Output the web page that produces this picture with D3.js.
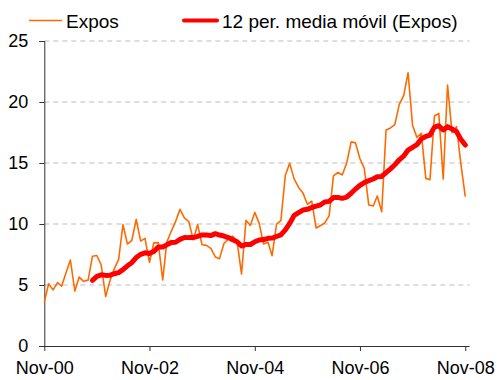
<!DOCTYPE html>
<html>
<head>
<meta charset="utf-8">
<script src="https://cdn.jsdelivr.net/npm/d3@7"></script>
<style>
  html, body { margin: 0; padding: 0; background: #fff; }
  svg { display: block; font-family: "Liberation Sans", Arial, sans-serif; }
</style>
</head>
<body>
<svg id="chart" width="497" height="380"></svg>
<script>
// Monthly series, Nov-2000 .. Nov-2008
const startMonth = new Date(2000, 10, 1);
const expos = [
  3.6, 5.1, 4.6, 5.2, 4.9, 6.0, 7.05, 4.5, 5.65, 5.3, 5.4, 7.35,
  7.42, 6.64, 4.05, 5.4, 6.3, 7.1, 9.95, 8.36, 8.63, 10.38, 8.6, 8.82,
  6.85, 8.45, 8.47, 5.41, 8.5, 9.4, 10.2, 11.2, 10.5, 10.2, 8.7, 9.95,
  8.3, 8.25, 8.0, 7.3, 7.16, 8.4, 8.75, 9.0, 8.6, 5.9, 10.3, 9.88,
  10.95, 10.07, 8.36, 8.5, 7.4, 9.98, 10.27, 14.0, 14.97, 13.7, 13.0, 12.55,
  11.62, 11.88, 9.67, 9.88, 10.08, 10.66, 13.95, 14.22, 14.02, 15.0, 16.73, 16.65,
  15.35, 14.56, 11.56, 11.48, 12.3, 11.0, 17.7, 17.87, 18.14, 19.8, 20.55, 22.4,
  18.1, 17.1, 17.43, 13.74, 13.63, 18.85, 19.07, 13.7, 21.39, 17.49, 17.98, 14.97,
  12.24
];
const maPeriod = 12;
const yTicks = [0, 5, 10, 15, 20, 25];
const xTickLabels = ["Nov-00", "Nov-02", "Nov-04", "Nov-06", "Nov-08"];
const seriesNames = ["Expos", "12 per. media móvil (Expos)"];

const months = expos.map((_, i) => d3.timeMonth.offset(startMonth, i));
const exposPts = expos.map((v, i) => ({ date: months[i], value: v }));
// Trailing 12-period moving average trendline of Expos
const maPts = exposPts.slice(maPeriod - 1).map((p, k) => ({
  date: p.date,
  value: d3.mean(expos.slice(k, k + maPeriod))
}));
const xTickDates = xTickLabels.map((_, i) => d3.timeMonth.offset(startMonth, i * 24));

const svg = d3.select("#chart");
const plot = { left: 44.3, right: 469.6, top: 41, bottom: 346 };

const x = d3.scaleTime()
  .domain([startMonth, d3.timeMonth.offset(startMonth, expos.length)])
  .range([plot.left, plot.right]);
const y = d3.scaleLinear().domain([0, 25]).range([plot.bottom, plot.top]);

// dashed gridlines
svg.append("g")
  .selectAll("line")
  .data(yTicks.filter(t => t > 0))
  .join("line")
  .attr("x1", plot.left).attr("x2", plot.right)
  .attr("y1", d => y(d)).attr("y2", d => y(d))
  .attr("stroke", "#bdbdbd")
  .attr("stroke-width", 1)
  .attr("stroke-dasharray", "5,4");

// y axis
const yAxis = svg.append("g")
  .attr("transform", `translate(${plot.left},0)`)
  .call(d3.axisLeft(y).tickValues(yTicks).tickSize(5).tickPadding(11).tickFormat(d3.format("d")));
yAxis.select(".domain").attr("stroke", "#333");
yAxis.selectAll(".tick line").attr("stroke", "#333");
yAxis.selectAll("text").attr("font-size", 18).attr("fill", "#000")
  .attr("font-family", "Liberation Sans, Arial, sans-serif");

// x axis
const xAxis = svg.append("g")
  .attr("transform", `translate(0,${plot.bottom})`)
  .call(d3.axisBottom(x).tickValues(xTickDates).tickSize(5).tickPadding(10)
    .tickSizeOuter(0)
    .tickFormat((d, i) => xTickLabels[i]));
xAxis.select(".domain").attr("stroke", "#333").attr("d", `M${plot.left - 5},0.5H${plot.right}`);
xAxis.selectAll(".tick line").attr("stroke", "#333");
xAxis.selectAll("text").attr("font-size", 18).attr("fill", "#000")
  .attr("font-family", "Liberation Sans, Arial, sans-serif");

const line = d3.line().x(d => x(d.date)).y(d => y(d.value));

svg.append("path")
  .datum(exposPts)
  .attr("fill", "none")
  .attr("stroke", "#ff6a00")
  .attr("stroke-width", 1.6)
  .attr("stroke-linejoin", "round")
  .attr("d", line);

svg.append("path")
  .datum(maPts)
  .attr("fill", "none")
  .attr("stroke", "#ff0000")
  .attr("stroke-width", 5)
  .attr("stroke-linejoin", "round")
  .attr("stroke-linecap", "round")
  .attr("d", line);

// legend
const legend = svg.append("g").attr("font-size", 19).attr("fill", "#000");
const legendItems = [
  { name: seriesNames[0], x1: 29, x2: 62, color: "#ff6a00", w: 1.6, tx: 66 },
  { name: seriesNames[1], x1: 184, x2: 217, color: "#ff0000", w: 4, tx: 222 }
];
legendItems.forEach(it => {
  legend.append("line")
    .attr("x1", it.x1).attr("x2", it.x2).attr("y1", 20.5).attr("y2", 20.5)
    .attr("stroke", it.color).attr("stroke-width", it.w)
    .attr("stroke-linecap", it.w > 2 ? "round" : "butt");
  legend.append("text").attr("x", it.tx).attr("y", 27.5).text(it.name);
});
</script>
</body>
</html>
